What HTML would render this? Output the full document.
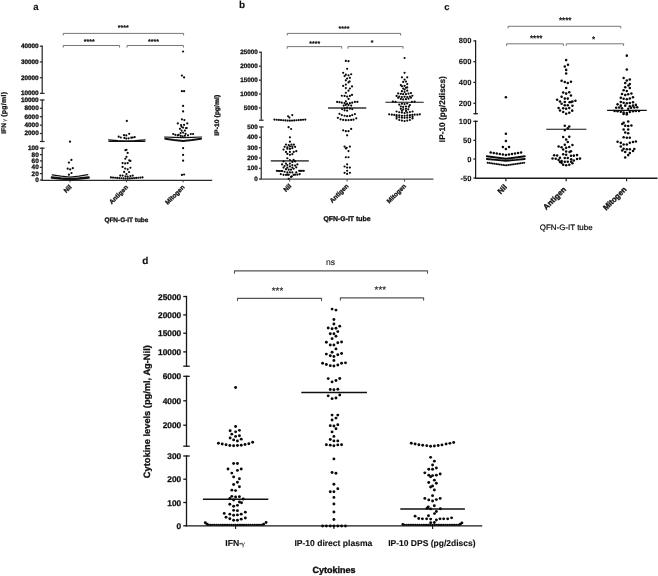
<!DOCTYPE html>
<html><head><meta charset="utf-8"><title>figure</title>
<style>
html,body{margin:0;padding:0;background:#fff;}
body{width:658px;height:576px;overflow:hidden;font-family:"Liberation Sans",sans-serif;}
svg{display:block;filter:grayscale(1) blur(0.35px);text-rendering:geometricPrecision;font-family:"Liberation Sans",sans-serif;}
</style></head><body>
<svg width="658" height="576" viewBox="0 0 658 576">
<rect x="0" y="0" width="658" height="576" fill="#ffffff"/>
<text x="33.2" y="9.8" font-size="9.6" text-anchor="start" fill="#111" font-weight="bold" stroke="#111" stroke-width="0.12">a</text>
<line x1="42.2" y1="45.58" x2="42.2" y2="94.03" stroke="#2a2a2a" stroke-width="1.25" stroke-linecap="butt"/>
<line x1="42.2" y1="99.38" x2="42.2" y2="142.12" stroke="#2a2a2a" stroke-width="1.25" stroke-linecap="butt"/>
<line x1="42.2" y1="147.57" x2="42.2" y2="180.62" stroke="#2a2a2a" stroke-width="1.25" stroke-linecap="butt"/>
<line x1="39.88" y1="46.2" x2="42.2" y2="46.2" stroke="#2a2a2a" stroke-width="1.25" stroke-linecap="butt"/>
<line x1="39.88" y1="61.9" x2="42.2" y2="61.9" stroke="#2a2a2a" stroke-width="1.25" stroke-linecap="butt"/>
<line x1="39.88" y1="77.7" x2="42.2" y2="77.7" stroke="#2a2a2a" stroke-width="1.25" stroke-linecap="butt"/>
<line x1="39.88" y1="108.3" x2="42.2" y2="108.3" stroke="#2a2a2a" stroke-width="1.25" stroke-linecap="butt"/>
<line x1="39.88" y1="116.7" x2="42.2" y2="116.7" stroke="#2a2a2a" stroke-width="1.25" stroke-linecap="butt"/>
<line x1="39.88" y1="125.2" x2="42.2" y2="125.2" stroke="#2a2a2a" stroke-width="1.25" stroke-linecap="butt"/>
<line x1="39.88" y1="133.5" x2="42.2" y2="133.5" stroke="#2a2a2a" stroke-width="1.25" stroke-linecap="butt"/>
<line x1="39.88" y1="154.6" x2="42.2" y2="154.6" stroke="#2a2a2a" stroke-width="1.25" stroke-linecap="butt"/>
<line x1="39.88" y1="160.9" x2="42.2" y2="160.9" stroke="#2a2a2a" stroke-width="1.25" stroke-linecap="butt"/>
<line x1="39.88" y1="167.3" x2="42.2" y2="167.3" stroke="#2a2a2a" stroke-width="1.25" stroke-linecap="butt"/>
<line x1="39.88" y1="173.6" x2="42.2" y2="173.6" stroke="#2a2a2a" stroke-width="1.25" stroke-linecap="butt"/>
<line x1="39.88" y1="180" x2="42.2" y2="180" stroke="#2a2a2a" stroke-width="1.25" stroke-linecap="butt"/>
<line x1="39.88" y1="93.4" x2="44.53" y2="93.4" stroke="#2a2a2a" stroke-width="1.25" stroke-linecap="butt"/>
<line x1="39.88" y1="100" x2="44.53" y2="100" stroke="#2a2a2a" stroke-width="1.25" stroke-linecap="butt"/>
<line x1="39.88" y1="141.5" x2="44.53" y2="141.5" stroke="#2a2a2a" stroke-width="1.25" stroke-linecap="butt"/>
<line x1="39.88" y1="148.2" x2="44.53" y2="148.2" stroke="#2a2a2a" stroke-width="1.25" stroke-linecap="butt"/>
<text x="38.7" y="48.1" font-size="6.4" text-anchor="end" fill="#111" font-weight="bold" stroke="#111" stroke-width="0.29">40000</text>
<text x="38.7" y="63.8" font-size="6.4" text-anchor="end" fill="#111" font-weight="bold" stroke="#111" stroke-width="0.29">30000</text>
<text x="38.7" y="79.6" font-size="6.4" text-anchor="end" fill="#111" font-weight="bold" stroke="#111" stroke-width="0.29">20000</text>
<text x="38.7" y="95.3" font-size="6.4" text-anchor="end" fill="#111" font-weight="bold" stroke="#111" stroke-width="0.29">10000</text>
<text x="38.7" y="101.9" font-size="6.4" text-anchor="end" fill="#111" font-weight="bold" stroke="#111" stroke-width="0.29">10000</text>
<text x="38.7" y="110.2" font-size="6.4" text-anchor="end" fill="#111" font-weight="bold" stroke="#111" stroke-width="0.29">8000</text>
<text x="38.7" y="118.6" font-size="6.4" text-anchor="end" fill="#111" font-weight="bold" stroke="#111" stroke-width="0.29">6000</text>
<text x="38.7" y="127.1" font-size="6.4" text-anchor="end" fill="#111" font-weight="bold" stroke="#111" stroke-width="0.29">4000</text>
<text x="38.7" y="135.4" font-size="6.4" text-anchor="end" fill="#111" font-weight="bold" stroke="#111" stroke-width="0.29">2000</text>
<text x="38.7" y="150.1" font-size="6.4" text-anchor="end" fill="#111" font-weight="bold" stroke="#111" stroke-width="0.29">100</text>
<text x="38.7" y="156.5" font-size="6.4" text-anchor="end" fill="#111" font-weight="bold" stroke="#111" stroke-width="0.29">80</text>
<text x="38.7" y="162.8" font-size="6.4" text-anchor="end" fill="#111" font-weight="bold" stroke="#111" stroke-width="0.29">60</text>
<text x="38.7" y="169.2" font-size="6.4" text-anchor="end" fill="#111" font-weight="bold" stroke="#111" stroke-width="0.29">40</text>
<text x="38.7" y="175.5" font-size="6.4" text-anchor="end" fill="#111" font-weight="bold" stroke="#111" stroke-width="0.29">20</text>
<text x="38.7" y="181.9" font-size="6.4" text-anchor="end" fill="#111" font-weight="bold" stroke="#111" stroke-width="0.29">0</text>
<line x1="41.6" y1="180.3" x2="212.2" y2="180.3" stroke="#2a2a2a" stroke-width="1.25" stroke-linecap="butt"/>
<line x1="70" y1="180" x2="70" y2="182.3" stroke="#2a2a2a" stroke-width="0.9" stroke-linecap="butt"/>
<line x1="126.5" y1="180" x2="126.5" y2="182.3" stroke="#2a2a2a" stroke-width="0.9" stroke-linecap="butt"/>
<line x1="183.1" y1="180" x2="183.1" y2="182.3" stroke="#2a2a2a" stroke-width="0.9" stroke-linecap="butt"/>
<polyline points="63.2,35.1 63.2,33.4 183.6,33.4 183.6,35.1" fill="none" stroke="#666" stroke-width="0.9" stroke-linejoin="miter" stroke-linecap="round"/>
<polyline points="63.2,47.2 63.2,45.5 119.6,45.5 119.6,47.2" fill="none" stroke="#666" stroke-width="0.9" stroke-linejoin="miter" stroke-linecap="round"/>
<polyline points="127,47.2 127,45.5 183.4,45.5 183.4,47.2" fill="none" stroke="#666" stroke-width="0.9" stroke-linejoin="miter" stroke-linecap="round"/>
<text x="123.3" y="29.5" font-size="7" text-anchor="middle" fill="#111" stroke="#111" stroke-width="0.3">****</text>
<text x="89.2" y="43.6" font-size="7" text-anchor="middle" fill="#111" stroke="#111" stroke-width="0.3">****</text>
<text x="153.5" y="43.6" font-size="7" text-anchor="middle" fill="#111" stroke="#111" stroke-width="0.3">****</text>
<text x="6.1" y="133.7" font-size="6.7" text-anchor="start" fill="#111" font-weight="bold" transform="rotate(-90 6.1 133.7)" textLength="10.6" lengthAdjust="spacingAndGlyphs" stroke="#111" stroke-width="0.28">IFN</text>
<text x="6.4" y="121.7" font-size="5.6" text-anchor="start" fill="#111" transform="rotate(-90 6.4 121.7)">&#947;</text>
<text x="6.1" y="116.8" font-size="6.9" text-anchor="start" fill="#111" font-weight="bold" transform="rotate(-90 6.1 116.8)" textLength="24.8" lengthAdjust="spacing" stroke="#111" stroke-width="0.28">(pg/ml)</text>
<text x="72" y="187.6" font-size="6.4" text-anchor="end" fill="#111" font-weight="bold" transform="rotate(-45 72 187.6)" stroke="#111" stroke-width="0.29">Nil</text>
<text x="128.5" y="187.6" font-size="6.4" text-anchor="end" fill="#111" font-weight="bold" transform="rotate(-45 128.5 187.6)" stroke="#111" stroke-width="0.29">Antigen</text>
<text x="185.1" y="187.6" font-size="6.4" text-anchor="end" fill="#111" font-weight="bold" transform="rotate(-45 185.1 187.6)" stroke="#111" stroke-width="0.29">Mitogen</text>
<text x="126.4" y="222.3" font-size="6.45" text-anchor="middle" fill="#111" font-weight="bold" stroke="#111" stroke-width="0.29">QFN-G-IT tube</text>
<polyline points="52.2,174.9 61,176.2 70,177.2 79,176.1 87.8,174.7" fill="none" stroke="#111" stroke-width="1.2" stroke-linejoin="round" stroke-linecap="round"/>
<polyline points="51.8,177.5 61,178.5 70,179.1 79,178.5 88.7,177.5" fill="none" stroke="#111" stroke-width="2.3" stroke-linejoin="round" stroke-linecap="round"/>
<g fill="#0a0a0a">
<circle cx="70" cy="141.7" r="1.1"/>
<circle cx="71.4" cy="159.9" r="1.1"/>
<circle cx="68.9" cy="162.6" r="1.1"/>
<circle cx="67.7" cy="168.7" r="1.1"/>
<circle cx="70.2" cy="169.4" r="1.1"/>
<circle cx="72.8" cy="168.2" r="1.1"/>
<circle cx="71.5" cy="173" r="1.1"/>
<circle cx="68.9" cy="174.7" r="1.1"/>
</g>
<line x1="108.5" y1="141.4" x2="145.3" y2="141.4" stroke="#111" stroke-width="1.2" stroke-linecap="butt"/>
<polyline points="108.7,139.9 118,140.8 126.5,141.3 135,140.8 145.1,139.9" fill="none" stroke="#111" stroke-width="1.4" stroke-linejoin="round" stroke-linecap="round"/>
<g fill="#0a0a0a">
<circle cx="126.8" cy="120.9" r="1.1"/>
<circle cx="118.7" cy="136.7" r="1.1"/>
<circle cx="120.8" cy="137.5" r="1.1"/>
<circle cx="124" cy="135.2" r="1.1"/>
<circle cx="126.3" cy="135.4" r="1.1"/>
<circle cx="129.2" cy="133.8" r="1.1"/>
<circle cx="124.4" cy="137.9" r="1.1"/>
<circle cx="126.3" cy="138.6" r="1.1"/>
<circle cx="128.6" cy="138.3" r="1.1"/>
<circle cx="131.3" cy="137.7" r="1.1"/>
<circle cx="132.8" cy="137.5" r="1.1"/>
<circle cx="134.7" cy="137.1" r="1.1"/>
<circle cx="125.47" cy="150.16" r="1.1"/>
<circle cx="126.48" cy="149.77" r="1.1"/>
<circle cx="127.66" cy="152.89" r="1.1"/>
<circle cx="126.48" cy="156.8" r="1.1"/>
<circle cx="125.31" cy="158.75" r="1.1"/>
<circle cx="129.22" cy="160.47" r="1.1"/>
<circle cx="130.39" cy="160.94" r="1.1"/>
<circle cx="122.58" cy="163.05" r="1.1"/>
<circle cx="125.16" cy="163.44" r="1.1"/>
<circle cx="127.66" cy="163.05" r="1.1"/>
<circle cx="122.58" cy="166.95" r="1.1"/>
<circle cx="125.16" cy="168.52" r="1.1"/>
<circle cx="127.66" cy="169.3" r="1.1"/>
<circle cx="130.39" cy="167.73" r="1.1"/>
<circle cx="124.14" cy="171.88" r="1.1"/>
<circle cx="129.06" cy="172.03" r="1.1"/>
<circle cx="126.48" cy="173.98" r="1.1"/>
<circle cx="120.23" cy="175.55" r="1.1"/>
<circle cx="122.58" cy="175.55" r="1.1"/>
<circle cx="125.47" cy="176.33" r="1.1"/>
<circle cx="127.66" cy="176.72" r="1.1"/>
<circle cx="130.39" cy="176.09" r="1.1"/>
<circle cx="132.73" cy="175.55" r="1.1"/>
<circle cx="110.9" cy="177.4" r="1.1"/>
<circle cx="113.01" cy="177.57" r="1.1"/>
<circle cx="115.11" cy="177.75" r="1.1"/>
<circle cx="117.22" cy="177.92" r="1.1"/>
<circle cx="119.33" cy="178.09" r="1.1"/>
<circle cx="121.43" cy="178.27" r="1.1"/>
<circle cx="123.54" cy="178.44" r="1.1"/>
<circle cx="125.65" cy="178.61" r="1.1"/>
<circle cx="127.75" cy="178.61" r="1.1"/>
<circle cx="129.86" cy="178.44" r="1.1"/>
<circle cx="131.97" cy="178.27" r="1.1"/>
<circle cx="134.07" cy="178.09" r="1.1"/>
<circle cx="136.18" cy="177.92" r="1.1"/>
<circle cx="138.29" cy="177.75" r="1.1"/>
<circle cx="140.39" cy="177.57" r="1.1"/>
<circle cx="142.5" cy="177.4" r="1.1"/>
</g>
<polyline points="164.5,137 174,137.4 183.1,137.6 192,137.4 201.7,137" fill="none" stroke="#111" stroke-width="1.1" stroke-linejoin="round" stroke-linecap="round"/>
<polyline points="165.3,138.8 174,140.1 183.1,141 192,140.1 201,138.8" fill="none" stroke="#111" stroke-width="2" stroke-linejoin="round" stroke-linecap="round"/>
<g fill="#0a0a0a">
<circle cx="183.1" cy="51.5" r="1.1"/>
<circle cx="181.9" cy="75.6" r="1.1"/>
<circle cx="184.1" cy="77.4" r="1.1"/>
<circle cx="181.9" cy="91.2" r="1.1"/>
<circle cx="184.1" cy="91.2" r="1.1"/>
<circle cx="183.1" cy="105.9" r="1.1"/>
<circle cx="183.1" cy="111.4" r="1.1"/>
<circle cx="181.9" cy="119.3" r="1.1"/>
<circle cx="184.4" cy="120.1" r="1.1"/>
<circle cx="177.8" cy="123.4" r="1.1"/>
<circle cx="187.3" cy="123.4" r="1.1"/>
<circle cx="181.1" cy="125.1" r="1.1"/>
<circle cx="184.1" cy="124.8" r="1.1"/>
<circle cx="179.9" cy="128.8" r="1.1"/>
<circle cx="183.1" cy="127.6" r="1.1"/>
<circle cx="186.1" cy="128.1" r="1.1"/>
<circle cx="181.6" cy="130.6" r="1.1"/>
<circle cx="184.9" cy="130.6" r="1.1"/>
<circle cx="173.2" cy="134" r="1.1"/>
<circle cx="175.3" cy="134.8" r="1.1"/>
<circle cx="178.6" cy="134.8" r="1.1"/>
<circle cx="180.6" cy="133.1" r="1.1"/>
<circle cx="183.1" cy="132.6" r="1.1"/>
<circle cx="185.6" cy="133.8" r="1.1"/>
<circle cx="190.8" cy="134" r="1.1"/>
<circle cx="193.1" cy="134" r="1.1"/>
<circle cx="183.1" cy="148.2" r="1.1"/>
<circle cx="183.1" cy="154.9" r="1.1"/>
<circle cx="183.1" cy="160.7" r="1.1"/>
<circle cx="181.9" cy="174.9" r="1.1"/>
<circle cx="184.1" cy="174.5" r="1.1"/>
<circle cx="177.7" cy="135.3" r="1.1"/>
<circle cx="180.6" cy="135.8" r="1.1"/>
<circle cx="182.6" cy="136.4" r="1.1"/>
<circle cx="184.9" cy="135.8" r="1.1"/>
<circle cx="188" cy="135.3" r="1.1"/>
<circle cx="181.5" cy="126.7" r="1.1"/>
<circle cx="186.7" cy="128" r="1.1"/>
</g>
<text x="238.9" y="7.9" font-size="9.9" text-anchor="start" fill="#111" font-weight="bold" stroke="#111" stroke-width="0.12">b</text>
<line x1="261.3" y1="51.57" x2="261.3" y2="121.02" stroke="#484848" stroke-width="1.45" stroke-linecap="butt"/>
<line x1="261.3" y1="126.28" x2="261.3" y2="179.72" stroke="#484848" stroke-width="1.45" stroke-linecap="butt"/>
<line x1="258.97" y1="52.3" x2="261.3" y2="52.3" stroke="#484848" stroke-width="1.45" stroke-linecap="butt"/>
<line x1="258.97" y1="66.3" x2="261.3" y2="66.3" stroke="#484848" stroke-width="1.45" stroke-linecap="butt"/>
<line x1="258.97" y1="80.2" x2="261.3" y2="80.2" stroke="#484848" stroke-width="1.45" stroke-linecap="butt"/>
<line x1="258.97" y1="94" x2="261.3" y2="94" stroke="#484848" stroke-width="1.45" stroke-linecap="butt"/>
<line x1="258.97" y1="107.9" x2="261.3" y2="107.9" stroke="#484848" stroke-width="1.45" stroke-linecap="butt"/>
<line x1="258.97" y1="137.3" x2="261.3" y2="137.3" stroke="#484848" stroke-width="1.45" stroke-linecap="butt"/>
<line x1="258.97" y1="147.7" x2="261.3" y2="147.7" stroke="#484848" stroke-width="1.45" stroke-linecap="butt"/>
<line x1="258.97" y1="158" x2="261.3" y2="158" stroke="#484848" stroke-width="1.45" stroke-linecap="butt"/>
<line x1="258.97" y1="168.4" x2="261.3" y2="168.4" stroke="#484848" stroke-width="1.45" stroke-linecap="butt"/>
<line x1="258.97" y1="179" x2="261.3" y2="179" stroke="#484848" stroke-width="1.45" stroke-linecap="butt"/>
<line x1="258.97" y1="120.3" x2="263.63" y2="120.3" stroke="#484848" stroke-width="1.45" stroke-linecap="butt"/>
<line x1="258.97" y1="127" x2="263.63" y2="127" stroke="#484848" stroke-width="1.45" stroke-linecap="butt"/>
<text x="257.8" y="54.2" font-size="6.3" text-anchor="end" fill="#111" font-weight="bold" stroke="#111" stroke-width="0.28">25000</text>
<text x="257.8" y="68.2" font-size="6.3" text-anchor="end" fill="#111" font-weight="bold" stroke="#111" stroke-width="0.28">20000</text>
<text x="257.8" y="82.1" font-size="6.3" text-anchor="end" fill="#111" font-weight="bold" stroke="#111" stroke-width="0.28">15000</text>
<text x="257.8" y="95.9" font-size="6.3" text-anchor="end" fill="#111" font-weight="bold" stroke="#111" stroke-width="0.28">10000</text>
<text x="257.8" y="109.8" font-size="6.3" text-anchor="end" fill="#111" font-weight="bold" stroke="#111" stroke-width="0.28">5000</text>
<text x="257.8" y="128.9" font-size="6.3" text-anchor="end" fill="#111" font-weight="bold" stroke="#111" stroke-width="0.28">500</text>
<text x="257.8" y="139.2" font-size="6.3" text-anchor="end" fill="#111" font-weight="bold" stroke="#111" stroke-width="0.28">400</text>
<text x="257.8" y="149.6" font-size="6.3" text-anchor="end" fill="#111" font-weight="bold" stroke="#111" stroke-width="0.28">300</text>
<text x="257.8" y="159.9" font-size="6.3" text-anchor="end" fill="#111" font-weight="bold" stroke="#111" stroke-width="0.28">200</text>
<text x="257.8" y="170.3" font-size="6.3" text-anchor="end" fill="#111" font-weight="bold" stroke="#111" stroke-width="0.28">100</text>
<text x="257.8" y="180.9" font-size="6.3" text-anchor="end" fill="#111" font-weight="bold" stroke="#111" stroke-width="0.28">0</text>
<line x1="260.7" y1="179.1" x2="433.5" y2="179.1" stroke="#484848" stroke-width="1.45" stroke-linecap="butt"/>
<line x1="289.7" y1="179" x2="289.7" y2="181.6" stroke="#484848" stroke-width="1" stroke-linecap="butt"/>
<line x1="347.1" y1="179" x2="347.1" y2="181.6" stroke="#484848" stroke-width="1" stroke-linecap="butt"/>
<line x1="404.6" y1="179" x2="404.6" y2="181.6" stroke="#484848" stroke-width="1" stroke-linecap="butt"/>
<polyline points="287.2,35.1 287.2,33.4 400.6,33.4 400.6,35.1" fill="none" stroke="#666" stroke-width="0.9" stroke-linejoin="miter" stroke-linecap="round"/>
<polyline points="287.2,48.3 287.2,46.6 341.7,46.6 341.7,48.3" fill="none" stroke="#666" stroke-width="0.9" stroke-linejoin="miter" stroke-linecap="round"/>
<polyline points="347.9,48.3 347.9,46.6 403.1,46.6 403.1,48.3" fill="none" stroke="#666" stroke-width="0.9" stroke-linejoin="miter" stroke-linecap="round"/>
<text x="344" y="30.9" font-size="7" text-anchor="middle" fill="#111" stroke="#111" stroke-width="0.3">****</text>
<text x="314.7" y="46.2" font-size="7" text-anchor="middle" fill="#111" stroke="#111" stroke-width="0.3">****</text>
<text x="372.2" y="45.2" font-size="7" text-anchor="middle" fill="#111" stroke="#111" stroke-width="0.3">*</text>
<text x="219" y="115.3" font-size="6.6" text-anchor="middle" fill="#111" font-weight="bold" transform="rotate(-90 219 115.3)" textLength="41" lengthAdjust="spacingAndGlyphs" stroke="#111" stroke-width="0.3">IP-10 (pg/ml)</text>
<text x="291.7" y="186.5" font-size="6.4" text-anchor="end" fill="#111" font-weight="bold" transform="rotate(-45 291.7 186.5)" stroke="#111" stroke-width="0.29">Nil</text>
<text x="349.1" y="186.5" font-size="6.4" text-anchor="end" fill="#111" font-weight="bold" transform="rotate(-45 349.1 186.5)" stroke="#111" stroke-width="0.29">Antigen</text>
<text x="406.6" y="186.5" font-size="6.4" text-anchor="end" fill="#111" font-weight="bold" transform="rotate(-45 406.6 186.5)" stroke="#111" stroke-width="0.29">Mitogen</text>
<text x="347" y="220.5" font-size="6.9" text-anchor="middle" fill="#111" font-weight="bold" stroke="#111" stroke-width="0.31">QFN-G-IT tube</text>
<line x1="270.8" y1="160.8" x2="308.8" y2="160.8" stroke="#555" stroke-width="1.7" stroke-linecap="butt"/>
<g fill="#0a0a0a">
<circle cx="292.26" cy="115.1" r="1.1"/>
<circle cx="288.08" cy="116.27" r="1.1"/>
<circle cx="289.41" cy="117.61" r="1.1"/>
<circle cx="288.58" cy="127.14" r="1.1"/>
<circle cx="291.09" cy="128.98" r="1.1"/>
<circle cx="274.4" cy="119.6" r="1.1"/>
<circle cx="276.61" cy="119.76" r="1.1"/>
<circle cx="278.81" cy="119.91" r="1.1"/>
<circle cx="281.02" cy="120.07" r="1.1"/>
<circle cx="283.23" cy="120.23" r="1.1"/>
<circle cx="285.44" cy="120.39" r="1.1"/>
<circle cx="287.64" cy="120.54" r="1.1"/>
<circle cx="289.85" cy="120.7" r="1.1"/>
<circle cx="292.06" cy="120.54" r="1.1"/>
<circle cx="294.26" cy="120.39" r="1.1"/>
<circle cx="296.47" cy="120.23" r="1.1"/>
<circle cx="298.68" cy="120.07" r="1.1"/>
<circle cx="300.89" cy="119.91" r="1.1"/>
<circle cx="303.09" cy="119.76" r="1.1"/>
<circle cx="305.3" cy="119.6" r="1.1"/>
<circle cx="289.9" cy="137.29" r="1.1"/>
<circle cx="289.9" cy="141.67" r="1.1"/>
<circle cx="285.98" cy="144.59" r="1.1"/>
<circle cx="288.71" cy="145.04" r="1.1"/>
<circle cx="291.45" cy="144.59" r="1.1"/>
<circle cx="293.91" cy="144.59" r="1.1"/>
<circle cx="284.61" cy="146.86" r="1.1"/>
<circle cx="287.35" cy="147.32" r="1.1"/>
<circle cx="289.9" cy="146.41" r="1.1"/>
<circle cx="292.36" cy="146.68" r="1.1"/>
<circle cx="295.1" cy="146.86" r="1.1"/>
<circle cx="287.35" cy="148.69" r="1.1"/>
<circle cx="289.9" cy="148.96" r="1.1"/>
<circle cx="292.36" cy="148.23" r="1.1"/>
<circle cx="283.52" cy="149.6" r="1.1"/>
<circle cx="285.98" cy="151.88" r="1.1"/>
<circle cx="289.9" cy="151.88" r="1.1"/>
<circle cx="293.73" cy="151.88" r="1.1"/>
<circle cx="296.28" cy="151.15" r="1.1"/>
<circle cx="287.35" cy="153.88" r="1.1"/>
<circle cx="289.9" cy="154.79" r="1.1"/>
<circle cx="292.36" cy="154.16" r="1.1"/>
<circle cx="287.35" cy="158.26" r="1.1"/>
<circle cx="289.9" cy="160.08" r="1.1"/>
<circle cx="293.55" cy="159.9" r="1.1"/>
<circle cx="283.52" cy="161.45" r="1.1"/>
<circle cx="292.36" cy="161.91" r="1.1"/>
<circle cx="295.1" cy="161.45" r="1.1"/>
<circle cx="285.98" cy="163.55" r="1.1"/>
<circle cx="289.9" cy="163.55" r="1.1"/>
<circle cx="282.06" cy="164.46" r="1.1"/>
<circle cx="287.35" cy="165.1" r="1.1"/>
<circle cx="292.36" cy="165.1" r="1.1"/>
<circle cx="297.37" cy="164.46" r="1.1"/>
<circle cx="295.1" cy="165.55" r="1.1"/>
<circle cx="284.61" cy="166.01" r="1.1"/>
<circle cx="289.9" cy="166.46" r="1.1"/>
<circle cx="283.52" cy="167.56" r="1.1"/>
<circle cx="287.35" cy="167.56" r="1.1"/>
<circle cx="292.36" cy="167.56" r="1.1"/>
<circle cx="296.28" cy="167.37" r="1.1"/>
<circle cx="285.98" cy="169.2" r="1.1"/>
<circle cx="288.71" cy="169.65" r="1.1"/>
<circle cx="290.99" cy="169.65" r="1.1"/>
<circle cx="293.73" cy="168.74" r="1.1"/>
<circle cx="276.86" cy="170.84" r="1.1"/>
<circle cx="278.23" cy="171.02" r="1.1"/>
<circle cx="279.6" cy="171.02" r="1.1"/>
<circle cx="281.15" cy="171.02" r="1.1"/>
<circle cx="282.33" cy="171.02" r="1.1"/>
<circle cx="299.2" cy="170.84" r="1.1"/>
<circle cx="300.57" cy="170.84" r="1.1"/>
<circle cx="301.93" cy="170.84" r="1.1"/>
<circle cx="303.76" cy="170.84" r="1.1"/>
<circle cx="284.61" cy="171.75" r="1.1"/>
<circle cx="287.35" cy="172.39" r="1.1"/>
<circle cx="289.9" cy="172.39" r="1.1"/>
<circle cx="292.36" cy="172.39" r="1.1"/>
<circle cx="296.28" cy="172.39" r="1.1"/>
<circle cx="280.78" cy="174.03" r="1.1"/>
<circle cx="283.52" cy="174.85" r="1.1"/>
<circle cx="285.98" cy="174.85" r="1.1"/>
<circle cx="287.35" cy="174.67" r="1.1"/>
<circle cx="288.71" cy="174.85" r="1.1"/>
<circle cx="293.73" cy="174.85" r="1.1"/>
<circle cx="295.1" cy="174.67" r="1.1"/>
<circle cx="297.37" cy="174.67" r="1.1"/>
<circle cx="299.65" cy="174.21" r="1.1"/>
<circle cx="290.99" cy="176.95" r="1.1"/>
<circle cx="291.91" cy="176.31" r="1.1"/>
<circle cx="288.71" cy="178.77" r="1.1"/>
</g>
<line x1="328" y1="108" x2="366.3" y2="108" stroke="#333" stroke-width="1.3" stroke-linecap="butt"/>
<g fill="#0a0a0a">
<circle cx="345.85" cy="60.96" r="1.1"/>
<circle cx="348.51" cy="61.17" r="1.1"/>
<circle cx="347.13" cy="68.83" r="1.1"/>
<circle cx="343.19" cy="72.87" r="1.1"/>
<circle cx="351.17" cy="74.26" r="1.1"/>
<circle cx="345.85" cy="74.68" r="1.1"/>
<circle cx="348.51" cy="75.32" r="1.1"/>
<circle cx="344.57" cy="76.06" r="1.1"/>
<circle cx="347.13" cy="78.51" r="1.1"/>
<circle cx="349.89" cy="77.87" r="1.1"/>
<circle cx="345.85" cy="80.32" r="1.1"/>
<circle cx="349.57" cy="81.38" r="1.1"/>
<circle cx="348.51" cy="82.45" r="1.1"/>
<circle cx="345.85" cy="84.57" r="1.1"/>
<circle cx="343.19" cy="85.96" r="1.1"/>
<circle cx="352.02" cy="86.38" r="1.1"/>
<circle cx="345.85" cy="88.09" r="1.1"/>
<circle cx="349.89" cy="88.51" r="1.1"/>
<circle cx="348.51" cy="90.64" r="1.1"/>
<circle cx="345.85" cy="92.77" r="1.1"/>
<circle cx="341.81" cy="95.74" r="1.1"/>
<circle cx="344.57" cy="95.96" r="1.1"/>
<circle cx="347.13" cy="96.6" r="1.1"/>
<circle cx="349.89" cy="95.96" r="1.1"/>
<circle cx="352.02" cy="94.89" r="1.1"/>
<circle cx="348.51" cy="98.94" r="1.1"/>
<circle cx="345.85" cy="101.28" r="1.1"/>
<circle cx="337.13" cy="101.91" r="1.1"/>
<circle cx="339.47" cy="102.13" r="1.1"/>
<circle cx="341.81" cy="102.66" r="1.1"/>
<circle cx="344.57" cy="103.19" r="1.1"/>
<circle cx="347.13" cy="103.72" r="1.1"/>
<circle cx="349.89" cy="103.19" r="1.1"/>
<circle cx="352.23" cy="102.66" r="1.1"/>
<circle cx="354.89" cy="101.91" r="1.1"/>
<circle cx="357.34" cy="101.91" r="1.1"/>
<circle cx="343.72" cy="105.53" r="1.1"/>
<circle cx="345.85" cy="104.79" r="1.1"/>
<circle cx="348.51" cy="105.11" r="1.1"/>
<circle cx="351.17" cy="105.53" r="1.1"/>
<circle cx="342.13" cy="109.04" r="1.1"/>
<circle cx="344.79" cy="108.3" r="1.1"/>
<circle cx="347.13" cy="107.66" r="1.1"/>
<circle cx="349.89" cy="108.72" r="1.1"/>
<circle cx="352.23" cy="109.04" r="1.1"/>
<circle cx="344.57" cy="110.32" r="1.1"/>
<circle cx="347.13" cy="110.64" r="1.1"/>
<circle cx="339.47" cy="113.83" r="1.1"/>
<circle cx="341.81" cy="115.11" r="1.1"/>
<circle cx="344.57" cy="115.74" r="1.1"/>
<circle cx="347.13" cy="116.17" r="1.1"/>
<circle cx="349.89" cy="115.96" r="1.1"/>
<circle cx="352.23" cy="115.11" r="1.1"/>
<circle cx="354.89" cy="114.04" r="1.1"/>
<circle cx="337.87" cy="117.87" r="1.1"/>
<circle cx="340.53" cy="119.36" r="1.1"/>
<circle cx="343.19" cy="119.89" r="1.1"/>
<circle cx="345.85" cy="120.21" r="1.1"/>
<circle cx="348.51" cy="120.21" r="1.1"/>
<circle cx="351.17" cy="119.89" r="1.1"/>
<circle cx="353.51" cy="119.68" r="1.1"/>
<circle cx="356.28" cy="118.3" r="1.1"/>
<circle cx="343.19" cy="130.32" r="1.1"/>
<circle cx="345.85" cy="131.17" r="1.1"/>
<circle cx="348.51" cy="131.17" r="1.1"/>
<circle cx="351.17" cy="128.94" r="1.1"/>
<circle cx="347.13" cy="135.32" r="1.1"/>
<circle cx="344.57" cy="146.6" r="1.1"/>
<circle cx="349.89" cy="146.6" r="1.1"/>
<circle cx="345.85" cy="148.4" r="1.1"/>
<circle cx="346.7" cy="147.87" r="1.1"/>
<circle cx="348.51" cy="151.06" r="1.1"/>
<circle cx="345.85" cy="157.23" r="1.1"/>
<circle cx="348.51" cy="157.23" r="1.1"/>
<circle cx="347.13" cy="164.36" r="1.1"/>
<circle cx="344.57" cy="166.49" r="1.1"/>
<circle cx="347.13" cy="167.55" r="1.1"/>
<circle cx="349.89" cy="167.55" r="1.1"/>
<circle cx="347.13" cy="170.74" r="1.1"/>
<circle cx="344.57" cy="172.87" r="1.1"/>
<circle cx="347.13" cy="173.94" r="1.1"/>
<circle cx="349.89" cy="172.87" r="1.1"/>
</g>
<line x1="385.4" y1="102.2" x2="423.7" y2="102.2" stroke="#151515" stroke-width="1.15" stroke-linecap="butt"/>
<g fill="#0a0a0a">
<circle cx="404.57" cy="57.98" r="1.1"/>
<circle cx="404.57" cy="72.87" r="1.1"/>
<circle cx="401.91" cy="77.34" r="1.1"/>
<circle cx="407.23" cy="77.34" r="1.1"/>
<circle cx="404.57" cy="79.57" r="1.1"/>
<circle cx="403.19" cy="81.91" r="1.1"/>
<circle cx="405.96" cy="81.6" r="1.1"/>
<circle cx="407.23" cy="84.04" r="1.1"/>
<circle cx="400.85" cy="85.11" r="1.1"/>
<circle cx="401.91" cy="86.17" r="1.1"/>
<circle cx="404.57" cy="85.96" r="1.1"/>
<circle cx="405.96" cy="87.77" r="1.1"/>
<circle cx="403.19" cy="88.51" r="1.1"/>
<circle cx="407.23" cy="87.45" r="1.1"/>
<circle cx="404.57" cy="89.57" r="1.1"/>
<circle cx="401.91" cy="91.17" r="1.1"/>
<circle cx="407.23" cy="90.64" r="1.1"/>
<circle cx="404.57" cy="92.02" r="1.1"/>
<circle cx="398.19" cy="93.4" r="1.1"/>
<circle cx="400.85" cy="93.83" r="1.1"/>
<circle cx="403.19" cy="94.15" r="1.1"/>
<circle cx="405.96" cy="94.15" r="1.1"/>
<circle cx="408.51" cy="93.62" r="1.1"/>
<circle cx="410.96" cy="93.09" r="1.1"/>
<circle cx="396.6" cy="95.96" r="1.1"/>
<circle cx="399.26" cy="96.6" r="1.1"/>
<circle cx="401.91" cy="97.02" r="1.1"/>
<circle cx="404.57" cy="96.81" r="1.1"/>
<circle cx="407.23" cy="97.02" r="1.1"/>
<circle cx="409.89" cy="96.6" r="1.1"/>
<circle cx="412.34" cy="95.74" r="1.1"/>
<circle cx="398.19" cy="97.87" r="1.1"/>
<circle cx="400.85" cy="98.94" r="1.1"/>
<circle cx="403.19" cy="99.47" r="1.1"/>
<circle cx="405.96" cy="99.15" r="1.1"/>
<circle cx="408.51" cy="98.72" r="1.1"/>
<circle cx="410.96" cy="97.66" r="1.1"/>
<circle cx="392.87" cy="101.6" r="1.1"/>
<circle cx="395.53" cy="101.91" r="1.1"/>
<circle cx="412.02" cy="101.91" r="1.1"/>
<circle cx="414.68" cy="101.6" r="1.1"/>
<circle cx="399.26" cy="104.57" r="1.1"/>
<circle cx="401.91" cy="103.72" r="1.1"/>
<circle cx="404.57" cy="104.04" r="1.1"/>
<circle cx="407.23" cy="103.51" r="1.1"/>
<circle cx="409.89" cy="105.11" r="1.1"/>
<circle cx="400.85" cy="106.49" r="1.1"/>
<circle cx="403.19" cy="106.91" r="1.1"/>
<circle cx="405.96" cy="106.49" r="1.1"/>
<circle cx="408.83" cy="106.7" r="1.1"/>
<circle cx="400.85" cy="108.83" r="1.1"/>
<circle cx="403.19" cy="109.36" r="1.1"/>
<circle cx="405.96" cy="108.83" r="1.1"/>
<circle cx="408.3" cy="109.36" r="1.1"/>
<circle cx="401.91" cy="110.74" r="1.1"/>
<circle cx="405.96" cy="110.96" r="1.1"/>
<circle cx="396.6" cy="111.49" r="1.1"/>
<circle cx="399.26" cy="112.23" r="1.1"/>
<circle cx="401.91" cy="112.55" r="1.1"/>
<circle cx="404.57" cy="113.09" r="1.1"/>
<circle cx="407.23" cy="112.55" r="1.1"/>
<circle cx="409.89" cy="112.02" r="1.1"/>
<circle cx="412.55" cy="111.49" r="1.1"/>
<circle cx="389.15" cy="114.36" r="1.1"/>
<circle cx="391.81" cy="114.68" r="1.1"/>
<circle cx="394.26" cy="114.89" r="1.1"/>
<circle cx="396.6" cy="115.21" r="1.1"/>
<circle cx="399.26" cy="115.43" r="1.1"/>
<circle cx="401.91" cy="115.74" r="1.1"/>
<circle cx="404.57" cy="115.74" r="1.1"/>
<circle cx="407.23" cy="115.43" r="1.1"/>
<circle cx="409.89" cy="115.21" r="1.1"/>
<circle cx="412.34" cy="114.89" r="1.1"/>
<circle cx="414.68" cy="114.68" r="1.1"/>
<circle cx="417.34" cy="114.68" r="1.1"/>
<circle cx="419.79" cy="114.36" r="1.1"/>
<circle cx="396.6" cy="116.81" r="1.1"/>
<circle cx="399.26" cy="117.34" r="1.1"/>
<circle cx="401.91" cy="117.66" r="1.1"/>
<circle cx="404.57" cy="117.87" r="1.1"/>
<circle cx="407.23" cy="117.66" r="1.1"/>
<circle cx="409.89" cy="117.34" r="1.1"/>
<circle cx="412.55" cy="116.81" r="1.1"/>
<circle cx="396.6" cy="118.62" r="1.1"/>
<circle cx="399.26" cy="120" r="1.1"/>
<circle cx="401.91" cy="120.53" r="1.1"/>
<circle cx="404.57" cy="121.06" r="1.1"/>
<circle cx="407.23" cy="120.53" r="1.1"/>
<circle cx="409.89" cy="120" r="1.1"/>
<circle cx="412.55" cy="118.4" r="1.1"/>
</g>
<text x="444.3" y="9.8" font-size="9.4" text-anchor="start" fill="#111" font-weight="bold" stroke="#111" stroke-width="0.12">c</text>
<line x1="475.6" y1="40.27" x2="475.6" y2="114.33" stroke="#1a1a1a" stroke-width="1.25" stroke-linecap="butt"/>
<line x1="475.6" y1="120.67" x2="475.6" y2="178.62" stroke="#1a1a1a" stroke-width="1.25" stroke-linecap="butt"/>
<line x1="473.38" y1="40.9" x2="475.6" y2="40.9" stroke="#1a1a1a" stroke-width="1.25" stroke-linecap="butt"/>
<line x1="473.38" y1="61.7" x2="475.6" y2="61.7" stroke="#1a1a1a" stroke-width="1.25" stroke-linecap="butt"/>
<line x1="473.38" y1="82.4" x2="475.6" y2="82.4" stroke="#1a1a1a" stroke-width="1.25" stroke-linecap="butt"/>
<line x1="473.38" y1="103.3" x2="475.6" y2="103.3" stroke="#1a1a1a" stroke-width="1.25" stroke-linecap="butt"/>
<line x1="473.38" y1="140.3" x2="475.6" y2="140.3" stroke="#1a1a1a" stroke-width="1.25" stroke-linecap="butt"/>
<line x1="473.38" y1="159" x2="475.6" y2="159" stroke="#1a1a1a" stroke-width="1.25" stroke-linecap="butt"/>
<line x1="473.38" y1="178" x2="475.6" y2="178" stroke="#1a1a1a" stroke-width="1.25" stroke-linecap="butt"/>
<line x1="473.38" y1="113.7" x2="477.83" y2="113.7" stroke="#1a1a1a" stroke-width="1.25" stroke-linecap="butt"/>
<line x1="473.38" y1="121.3" x2="477.83" y2="121.3" stroke="#1a1a1a" stroke-width="1.25" stroke-linecap="butt"/>
<text x="471.5" y="43.4" font-size="7.6" text-anchor="end" fill="#111" font-weight="bold" stroke="#111" stroke-width="0.1">800</text>
<text x="471.5" y="64.2" font-size="7.6" text-anchor="end" fill="#111" font-weight="bold" stroke="#111" stroke-width="0.1">600</text>
<text x="471.5" y="84.9" font-size="7.6" text-anchor="end" fill="#111" font-weight="bold" stroke="#111" stroke-width="0.1">400</text>
<text x="471.5" y="105.8" font-size="7.6" text-anchor="end" fill="#111" font-weight="bold" stroke="#111" stroke-width="0.1">200</text>
<text x="471.5" y="123.8" font-size="7.6" text-anchor="end" fill="#111" font-weight="bold" stroke="#111" stroke-width="0.1">100</text>
<text x="471.5" y="142.8" font-size="7.6" text-anchor="end" fill="#111" font-weight="bold" stroke="#111" stroke-width="0.1">50</text>
<text x="471.5" y="161.5" font-size="7.6" text-anchor="end" fill="#111" font-weight="bold" stroke="#111" stroke-width="0.1">0</text>
<text x="471.5" y="180.5" font-size="7.6" text-anchor="end" fill="#111" font-weight="bold" stroke="#111" stroke-width="0.1">-50</text>
<line x1="475" y1="178.25" x2="657.5" y2="178.25" stroke="#1a1a1a" stroke-width="1.5" stroke-linecap="butt"/>
<line x1="505.9" y1="178" x2="505.9" y2="181.2" stroke="#1a1a1a" stroke-width="1.2" stroke-linecap="butt"/>
<line x1="566.2" y1="178" x2="566.2" y2="181.2" stroke="#1a1a1a" stroke-width="1.2" stroke-linecap="butt"/>
<line x1="626.6" y1="178" x2="626.6" y2="181.2" stroke="#1a1a1a" stroke-width="1.2" stroke-linecap="butt"/>
<polyline points="508.1,28 508.1,26.3 620.8,26.3 620.8,28" fill="none" stroke="#666" stroke-width="0.9" stroke-linejoin="miter" stroke-linecap="round"/>
<polyline points="506.6,45.5 506.6,43.8 563.4,43.8 563.4,45.5" fill="none" stroke="#666" stroke-width="0.9" stroke-linejoin="miter" stroke-linecap="round"/>
<polyline points="566.3,45.5 566.3,43.8 623.6,43.8 623.6,45.5" fill="none" stroke="#666" stroke-width="0.9" stroke-linejoin="miter" stroke-linecap="round"/>
<text x="565.2" y="22.8" font-size="8" text-anchor="middle" fill="#111" stroke="#111" stroke-width="0.3">****</text>
<text x="536.2" y="40.9" font-size="8" text-anchor="middle" fill="#111" stroke="#111" stroke-width="0.3">****</text>
<text x="593.5" y="41.7" font-size="8" text-anchor="middle" fill="#111" stroke="#111" stroke-width="0.3">*</text>
<text x="445.1" y="109.2" font-size="8.3" text-anchor="middle" fill="#111" font-weight="bold" transform="rotate(-90 445.1 109.2)" stroke="#111" stroke-width="0.2">IP-10 (pg/2discs)</text>
<text x="507.6" y="187.6" font-size="7.7" text-anchor="end" fill="#111" font-weight="bold" transform="rotate(-45 507.6 187.6)" stroke="#111" stroke-width="0.35">Nil</text>
<text x="566.6" y="190" font-size="7.7" text-anchor="end" fill="#111" font-weight="bold" transform="rotate(-45 566.6 190)" stroke="#111" stroke-width="0.35">Antigen</text>
<text x="627" y="190" font-size="7.7" text-anchor="end" fill="#111" font-weight="bold" transform="rotate(-45 627 190)" stroke="#111" stroke-width="0.35">Mitogen</text>
<text x="566.2" y="229.6" font-size="7.95" text-anchor="middle" fill="#000" stroke="#000" stroke-width="0.18">QFN-G-IT tube</text>
<g fill="#0a0a0a">
<circle cx="505.9" cy="97.2" r="1.27"/>
<circle cx="505.9" cy="133.7" r="1.27"/>
<circle cx="505.9" cy="141" r="1.27"/>
<circle cx="502.9" cy="147" r="1.27"/>
<circle cx="509" cy="147" r="1.27"/>
<circle cx="505.9" cy="149.1" r="1.27"/>
<circle cx="490.7" cy="152.6" r="1.27"/>
<circle cx="493.74" cy="153.08" r="1.27"/>
<circle cx="496.78" cy="153.56" r="1.27"/>
<circle cx="499.82" cy="154.04" r="1.27"/>
<circle cx="502.86" cy="154.52" r="1.27"/>
<circle cx="505.9" cy="155" r="1.27"/>
<circle cx="508.94" cy="154.52" r="1.27"/>
<circle cx="511.98" cy="154.04" r="1.27"/>
<circle cx="515.02" cy="153.56" r="1.27"/>
<circle cx="518.06" cy="153.08" r="1.27"/>
<circle cx="521.1" cy="152.6" r="1.27"/>
</g>
<polyline points="486.8,156.3 496,157.5 505.9,158.7 516,157.5 524.8,156.3" fill="none" stroke="#0a0a0a" stroke-width="1.9" stroke-linejoin="round" stroke-linecap="round"/>
<polyline points="486.8,159 496,159.9 505.9,160.7 516,159.9 524.8,159" fill="none" stroke="#0a0a0a" stroke-width="1.9" stroke-linejoin="round" stroke-linecap="round"/>
<g fill="#0a0a0a">
<circle cx="487.6" cy="162.7" r="1"/>
<circle cx="489.34" cy="162.96" r="1"/>
<circle cx="491.09" cy="163.21" r="1"/>
<circle cx="492.83" cy="163.47" r="1"/>
<circle cx="494.57" cy="163.73" r="1"/>
<circle cx="496.31" cy="163.99" r="1"/>
<circle cx="498.06" cy="164.24" r="1"/>
<circle cx="499.8" cy="164.5" r="1"/>
<circle cx="501.54" cy="164.76" r="1"/>
<circle cx="503.29" cy="165.01" r="1"/>
<circle cx="505.03" cy="165.27" r="1"/>
<circle cx="506.77" cy="165.27" r="1"/>
<circle cx="508.51" cy="165.01" r="1"/>
<circle cx="510.26" cy="164.76" r="1"/>
<circle cx="512" cy="164.5" r="1"/>
<circle cx="513.74" cy="164.24" r="1"/>
<circle cx="515.49" cy="163.99" r="1"/>
<circle cx="517.23" cy="163.73" r="1"/>
<circle cx="518.97" cy="163.47" r="1"/>
<circle cx="520.71" cy="163.21" r="1"/>
<circle cx="522.46" cy="162.96" r="1"/>
<circle cx="524.2" cy="162.7" r="1"/>
</g>
<line x1="546.2" y1="129.3" x2="586.4" y2="129.3" stroke="#111" stroke-width="1.1" stroke-linecap="butt"/>
<g fill="#0a0a0a">
<circle cx="566.17" cy="60.11" r="1.27"/>
<circle cx="567.98" cy="64.68" r="1.27"/>
<circle cx="564.79" cy="66.49" r="1.27"/>
<circle cx="566.17" cy="69.89" r="1.27"/>
<circle cx="566.17" cy="73.4" r="1.27"/>
<circle cx="561.6" cy="80.85" r="1.27"/>
<circle cx="564.79" cy="81.91" r="1.27"/>
<circle cx="567.77" cy="82.98" r="1.27"/>
<circle cx="570.96" cy="81.7" r="1.27"/>
<circle cx="566.17" cy="87.98" r="1.27"/>
<circle cx="563.19" cy="92.55" r="1.27"/>
<circle cx="566.17" cy="93.62" r="1.27"/>
<circle cx="569.26" cy="92.23" r="1.27"/>
<circle cx="570.96" cy="95.53" r="1.27"/>
<circle cx="561.6" cy="96.81" r="1.27"/>
<circle cx="564.79" cy="98.62" r="1.27"/>
<circle cx="567.77" cy="98.62" r="1.27"/>
<circle cx="557.13" cy="99.79" r="1.27"/>
<circle cx="560" cy="101.6" r="1.27"/>
<circle cx="564.79" cy="101.91" r="1.27"/>
<circle cx="569.57" cy="102.34" r="1.27"/>
<circle cx="571.17" cy="101.91" r="1.27"/>
<circle cx="572.45" cy="101.6" r="1.27"/>
<circle cx="575.43" cy="100.85" r="1.27"/>
<circle cx="561.6" cy="103.72" r="1.27"/>
<circle cx="564.79" cy="105.32" r="1.27"/>
<circle cx="567.77" cy="105.32" r="1.27"/>
<circle cx="572.45" cy="105.85" r="1.27"/>
<circle cx="558.62" cy="107.98" r="1.27"/>
<circle cx="563.19" cy="108.3" r="1.27"/>
<circle cx="566.17" cy="108.72" r="1.27"/>
<circle cx="569.26" cy="107.98" r="1.27"/>
<circle cx="560" cy="110.43" r="1.27"/>
<circle cx="572.23" cy="110.64" r="1.27"/>
<circle cx="563.19" cy="111.91" r="1.27"/>
<circle cx="569.26" cy="112.77" r="1.27"/>
<circle cx="566.17" cy="113.83" r="1.27"/>
<circle cx="564.79" cy="125.85" r="1.27"/>
<circle cx="569.26" cy="126.6" r="1.27"/>
<circle cx="567.77" cy="128.19" r="1.27"/>
<circle cx="564.79" cy="130.11" r="1.27"/>
<circle cx="563.19" cy="137.02" r="1.27"/>
<circle cx="569.26" cy="136.7" r="1.27"/>
<circle cx="566.17" cy="139.57" r="1.27"/>
<circle cx="567.77" cy="142.02" r="1.27"/>
<circle cx="564.79" cy="144.68" r="1.27"/>
<circle cx="572.45" cy="145" r="1.27"/>
<circle cx="558.62" cy="146.6" r="1.27"/>
<circle cx="561.6" cy="147.34" r="1.27"/>
<circle cx="566.17" cy="147.87" r="1.27"/>
<circle cx="569.26" cy="147.02" r="1.27"/>
<circle cx="563.19" cy="149.47" r="1.27"/>
<circle cx="566.17" cy="151.6" r="1.27"/>
<circle cx="569.57" cy="151.91" r="1.27"/>
<circle cx="570.96" cy="151.28" r="1.27"/>
<circle cx="563.19" cy="154.26" r="1.27"/>
<circle cx="566.17" cy="154.79" r="1.27"/>
<circle cx="554.15" cy="155.32" r="1.27"/>
<circle cx="557.13" cy="155.53" r="1.27"/>
<circle cx="570.96" cy="155.85" r="1.27"/>
<circle cx="573.83" cy="155.64" r="1.27"/>
<circle cx="577.02" cy="155.11" r="1.27"/>
<circle cx="552.55" cy="158.51" r="1.27"/>
<circle cx="555.74" cy="158.83" r="1.27"/>
<circle cx="560" cy="157.77" r="1.27"/>
<circle cx="564.79" cy="157.98" r="1.27"/>
<circle cx="567.77" cy="157.98" r="1.27"/>
<circle cx="577.02" cy="159.04" r="1.27"/>
<circle cx="580" cy="158.62" r="1.27"/>
<circle cx="558.62" cy="159.89" r="1.27"/>
<circle cx="561.6" cy="160.96" r="1.27"/>
<circle cx="571.17" cy="159.36" r="1.27"/>
<circle cx="573.83" cy="160.43" r="1.27"/>
<circle cx="560" cy="162.02" r="1.27"/>
<circle cx="564.79" cy="161.7" r="1.27"/>
<circle cx="567.77" cy="161.7" r="1.27"/>
<circle cx="571.17" cy="161.81" r="1.27"/>
<circle cx="561.6" cy="162.87" r="1.27"/>
<circle cx="572.45" cy="163.3" r="1.27"/>
<circle cx="563.19" cy="164.68" r="1.27"/>
<circle cx="566.17" cy="165.21" r="1.27"/>
<circle cx="569.26" cy="164.68" r="1.27"/>
</g>
<line x1="607.1" y1="110.4" x2="646.7" y2="110.4" stroke="#111" stroke-width="1.1" stroke-linecap="butt"/>
<g fill="#0a0a0a">
<circle cx="626.83" cy="55.64" r="1.27"/>
<circle cx="626.83" cy="69.47" r="1.27"/>
<circle cx="623.64" cy="77.98" r="1.27"/>
<circle cx="629.81" cy="79.57" r="1.27"/>
<circle cx="626.83" cy="80.43" r="1.27"/>
<circle cx="625.23" cy="82.98" r="1.27"/>
<circle cx="629.81" cy="84.04" r="1.27"/>
<circle cx="628.43" cy="85.43" r="1.27"/>
<circle cx="625.23" cy="87.34" r="1.27"/>
<circle cx="629.81" cy="88.09" r="1.27"/>
<circle cx="623.64" cy="90.21" r="1.27"/>
<circle cx="626.83" cy="90.96" r="1.27"/>
<circle cx="622.04" cy="93.94" r="1.27"/>
<circle cx="625.23" cy="95" r="1.27"/>
<circle cx="628.21" cy="94.26" r="1.27"/>
<circle cx="631.4" cy="93.4" r="1.27"/>
<circle cx="620.77" cy="97.87" r="1.27"/>
<circle cx="623.64" cy="98.72" r="1.27"/>
<circle cx="626.83" cy="99.26" r="1.27"/>
<circle cx="629.81" cy="98.51" r="1.27"/>
<circle cx="633" cy="97.34" r="1.27"/>
<circle cx="620.77" cy="101.91" r="1.27"/>
<circle cx="623.64" cy="102.77" r="1.27"/>
<circle cx="626.83" cy="103.3" r="1.27"/>
<circle cx="629.81" cy="102.98" r="1.27"/>
<circle cx="633" cy="102.23" r="1.27"/>
<circle cx="617.57" cy="104.36" r="1.27"/>
<circle cx="620.77" cy="105.64" r="1.27"/>
<circle cx="625.23" cy="105.64" r="1.27"/>
<circle cx="629.81" cy="106.17" r="1.27"/>
<circle cx="633" cy="105.64" r="1.27"/>
<circle cx="635.87" cy="104.89" r="1.27"/>
<circle cx="616.19" cy="107.77" r="1.27"/>
<circle cx="619.17" cy="107.55" r="1.27"/>
<circle cx="622.04" cy="108.3" r="1.27"/>
<circle cx="628.21" cy="108.83" r="1.27"/>
<circle cx="631.09" cy="107.77" r="1.27"/>
<circle cx="634.28" cy="107.55" r="1.27"/>
<circle cx="637.26" cy="107.23" r="1.27"/>
<circle cx="614.6" cy="110.96" r="1.27"/>
<circle cx="617.57" cy="111.17" r="1.27"/>
<circle cx="620.77" cy="111.81" r="1.27"/>
<circle cx="623.64" cy="112.55" r="1.27"/>
<circle cx="626.83" cy="113.09" r="1.27"/>
<circle cx="629.81" cy="112.02" r="1.27"/>
<circle cx="633" cy="111.17" r="1.27"/>
<circle cx="635.87" cy="110.96" r="1.27"/>
<circle cx="639.06" cy="110.96" r="1.27"/>
<circle cx="623.64" cy="113.94" r="1.27"/>
<circle cx="626.83" cy="114.36" r="1.27"/>
<circle cx="628.21" cy="121.6" r="1.27"/>
<circle cx="623.64" cy="122.87" r="1.27"/>
<circle cx="622.26" cy="123.94" r="1.27"/>
<circle cx="625.23" cy="125.85" r="1.27"/>
<circle cx="628.21" cy="126.06" r="1.27"/>
<circle cx="631.4" cy="125.53" r="1.27"/>
<circle cx="623.64" cy="129.57" r="1.27"/>
<circle cx="628.21" cy="129.57" r="1.27"/>
<circle cx="625.23" cy="132.45" r="1.27"/>
<circle cx="628.21" cy="133.3" r="1.27"/>
<circle cx="623.64" cy="137.23" r="1.27"/>
<circle cx="626.83" cy="137.77" r="1.27"/>
<circle cx="629.81" cy="137.77" r="1.27"/>
<circle cx="617.57" cy="141.81" r="1.27"/>
<circle cx="620.77" cy="142.87" r="1.27"/>
<circle cx="623.64" cy="144.47" r="1.27"/>
<circle cx="626.83" cy="144.47" r="1.27"/>
<circle cx="629.81" cy="142.87" r="1.27"/>
<circle cx="633" cy="142.02" r="1.27"/>
<circle cx="635.87" cy="141.6" r="1.27"/>
<circle cx="620.77" cy="146.6" r="1.27"/>
<circle cx="623.64" cy="148.72" r="1.27"/>
<circle cx="626.83" cy="149.26" r="1.27"/>
<circle cx="629.81" cy="149.26" r="1.27"/>
<circle cx="634.28" cy="148.94" r="1.27"/>
<circle cx="622.26" cy="150.53" r="1.27"/>
<circle cx="625.23" cy="151.91" r="1.27"/>
<circle cx="633" cy="151.06" r="1.27"/>
<circle cx="629.81" cy="152.98" r="1.27"/>
<circle cx="628.21" cy="155.11" r="1.27"/>
<circle cx="625.2" cy="157.6" r="1.27"/>
</g>
<text x="142.3" y="263.7" font-size="10" text-anchor="start" fill="#111" font-weight="bold" stroke="#111" stroke-width="0.12">d</text>
<line x1="186.5" y1="295.85" x2="186.5" y2="366.85" stroke="#161616" stroke-width="1.3" stroke-linecap="butt"/>
<line x1="186.5" y1="375.65" x2="186.5" y2="446.85" stroke="#161616" stroke-width="1.3" stroke-linecap="butt"/>
<line x1="186.5" y1="455.35" x2="186.5" y2="526.45" stroke="#161616" stroke-width="1.3" stroke-linecap="butt"/>
<line x1="183.25" y1="296.5" x2="186.5" y2="296.5" stroke="#161616" stroke-width="1.3" stroke-linecap="butt"/>
<line x1="183.25" y1="314.9" x2="186.5" y2="314.9" stroke="#161616" stroke-width="1.3" stroke-linecap="butt"/>
<line x1="183.25" y1="333.2" x2="186.5" y2="333.2" stroke="#161616" stroke-width="1.3" stroke-linecap="butt"/>
<line x1="183.25" y1="351.9" x2="186.5" y2="351.9" stroke="#161616" stroke-width="1.3" stroke-linecap="butt"/>
<line x1="183.25" y1="400.8" x2="186.5" y2="400.8" stroke="#161616" stroke-width="1.3" stroke-linecap="butt"/>
<line x1="183.25" y1="425.2" x2="186.5" y2="425.2" stroke="#161616" stroke-width="1.3" stroke-linecap="butt"/>
<line x1="183.25" y1="479.2" x2="186.5" y2="479.2" stroke="#161616" stroke-width="1.3" stroke-linecap="butt"/>
<line x1="183.25" y1="502.5" x2="186.5" y2="502.5" stroke="#161616" stroke-width="1.3" stroke-linecap="butt"/>
<line x1="183.25" y1="525.8" x2="186.5" y2="525.8" stroke="#161616" stroke-width="1.3" stroke-linecap="butt"/>
<line x1="183.25" y1="366.2" x2="189.75" y2="366.2" stroke="#161616" stroke-width="1.3" stroke-linecap="butt"/>
<line x1="183.25" y1="376.3" x2="189.75" y2="376.3" stroke="#161616" stroke-width="1.3" stroke-linecap="butt"/>
<line x1="183.25" y1="446.2" x2="189.75" y2="446.2" stroke="#161616" stroke-width="1.3" stroke-linecap="butt"/>
<line x1="183.25" y1="456" x2="189.75" y2="456" stroke="#161616" stroke-width="1.3" stroke-linecap="butt"/>
<text x="181.2" y="299.6" font-size="8.3" text-anchor="end" fill="#111" font-weight="bold" stroke="#111" stroke-width="0.27">25000</text>
<text x="181.2" y="318" font-size="8.3" text-anchor="end" fill="#111" font-weight="bold" stroke="#111" stroke-width="0.27">20000</text>
<text x="181.2" y="336.3" font-size="8.3" text-anchor="end" fill="#111" font-weight="bold" stroke="#111" stroke-width="0.27">15000</text>
<text x="181.2" y="355" font-size="8.3" text-anchor="end" fill="#111" font-weight="bold" stroke="#111" stroke-width="0.27">10000</text>
<text x="181.2" y="379.4" font-size="8.3" text-anchor="end" fill="#111" font-weight="bold" stroke="#111" stroke-width="0.27">6000</text>
<text x="181.2" y="403.9" font-size="8.3" text-anchor="end" fill="#111" font-weight="bold" stroke="#111" stroke-width="0.27">4000</text>
<text x="181.2" y="428.3" font-size="8.3" text-anchor="end" fill="#111" font-weight="bold" stroke="#111" stroke-width="0.27">2000</text>
<text x="181.2" y="459.1" font-size="8.3" text-anchor="end" fill="#111" font-weight="bold" stroke="#111" stroke-width="0.27">300</text>
<text x="181.2" y="482.3" font-size="8.3" text-anchor="end" fill="#111" font-weight="bold" stroke="#111" stroke-width="0.27">200</text>
<text x="181.2" y="505.6" font-size="8.3" text-anchor="end" fill="#111" font-weight="bold" stroke="#111" stroke-width="0.27">100</text>
<text x="181.2" y="528.9" font-size="8.3" text-anchor="end" fill="#111" font-weight="bold" stroke="#111" stroke-width="0.27">0</text>
<line x1="185.85" y1="525.9" x2="482.2" y2="525.9" stroke="#161616" stroke-width="1.3" stroke-linecap="butt"/>
<line x1="235.6" y1="525.9" x2="235.6" y2="529" stroke="#161616" stroke-width="1.1" stroke-linecap="butt"/>
<line x1="333.9" y1="525.9" x2="333.9" y2="529" stroke="#161616" stroke-width="1.1" stroke-linecap="butt"/>
<line x1="432.6" y1="525.9" x2="432.6" y2="529" stroke="#161616" stroke-width="1.1" stroke-linecap="butt"/>
<polyline points="234.5,273.3 234.5,270.9 427.5,270.9 427.5,273.3" fill="none" stroke="#555" stroke-width="1.1" stroke-linejoin="miter" stroke-linecap="round"/>
<polyline points="237.5,300.6 237.5,298.4 321.5,298.4 321.5,300.6" fill="none" stroke="#555" stroke-width="1.1" stroke-linejoin="miter" stroke-linecap="round"/>
<polyline points="340.4,300.1 340.4,297.9 423.6,297.9 423.6,300.1" fill="none" stroke="#555" stroke-width="1.1" stroke-linejoin="miter" stroke-linecap="round"/>
<text x="330.6" y="264.6" font-size="8.6" text-anchor="middle" fill="#111" stroke="#111" stroke-width="0.1">ns</text>
<text x="277.5" y="293.8" font-size="9.8" text-anchor="middle" fill="#222" stroke="#222" stroke-width="0.15">***</text>
<text x="380.3" y="293.3" font-size="9.8" text-anchor="middle" fill="#222" stroke="#222" stroke-width="0.15">***</text>
<text x="150" y="411.7" font-size="9.2" text-anchor="middle" fill="#111" font-weight="bold" transform="rotate(-90 150 411.7)" textLength="133" lengthAdjust="spacingAndGlyphs" stroke="#111" stroke-width="0.3">Cytokine levels (pg/ml, Ag-Nil)</text>
<text x="225.3" y="546" font-size="8.6" text-anchor="start" fill="#111" font-weight="bold" stroke="#111" stroke-width="0.12">IFN-</text>
<text x="241.6" y="546.4" font-size="6.8" text-anchor="start" fill="#111">&#947;</text>
<text x="294.4" y="545.7" font-size="8.55" text-anchor="start" fill="#111" font-weight="bold" stroke="#111" stroke-width="0.12">IP-10 direct plasma</text>
<text x="388.2" y="545.9" font-size="8.5" text-anchor="start" fill="#111" font-weight="bold" stroke="#111" stroke-width="0.12">IP-10 DPS (pg/2discs)</text>
<text x="334.1" y="573.2" font-size="9" text-anchor="middle" fill="#111" font-weight="bold" stroke="#111" stroke-width="0.4">Cytokines</text>
<line x1="301.3" y1="392.5" x2="367" y2="392.5" stroke="#111" stroke-width="1.45" stroke-linecap="butt"/>
<g fill="#0a0a0a">
<circle cx="332.08" cy="309.12" r="1.45"/>
<circle cx="335.97" cy="310.09" r="1.45"/>
<circle cx="333.91" cy="319.45" r="1.45"/>
<circle cx="333.91" cy="323.95" r="1.45"/>
<circle cx="328.19" cy="327.96" r="1.45"/>
<circle cx="332.08" cy="328.81" r="1.45"/>
<circle cx="335.97" cy="328.21" r="1.45"/>
<circle cx="339.74" cy="326.14" r="1.45"/>
<circle cx="337.8" cy="331.61" r="1.45"/>
<circle cx="330.26" cy="333.68" r="1.45"/>
<circle cx="333.91" cy="333.8" r="1.45"/>
<circle cx="335.97" cy="336.23" r="1.45"/>
<circle cx="332.08" cy="338.66" r="1.45"/>
<circle cx="326.37" cy="342.31" r="1.45"/>
<circle cx="330.26" cy="344.98" r="1.45"/>
<circle cx="333.91" cy="344.98" r="1.45"/>
<circle cx="337.8" cy="342.8" r="1.45"/>
<circle cx="341.57" cy="341.95" r="1.45"/>
<circle cx="335.97" cy="348.88" r="1.45"/>
<circle cx="332.08" cy="352.28" r="1.45"/>
<circle cx="326.37" cy="354.1" r="1.45"/>
<circle cx="330.26" cy="355.68" r="1.45"/>
<circle cx="333.91" cy="356.53" r="1.45"/>
<circle cx="337.8" cy="354.71" r="1.45"/>
<circle cx="341.57" cy="353.5" r="1.45"/>
<circle cx="333.91" cy="360.43" r="1.45"/>
<circle cx="322.6" cy="363.22" r="1.45"/>
<circle cx="326.37" cy="364.44" r="1.45"/>
<circle cx="330.26" cy="365.65" r="1.45"/>
<circle cx="333.91" cy="366.02" r="1.45"/>
<circle cx="337.8" cy="365.05" r="1.45"/>
<circle cx="341.57" cy="363.22" r="1.45"/>
<circle cx="345.46" cy="362.86" r="1.45"/>
<circle cx="328.19" cy="378.6" r="1.45"/>
<circle cx="332.08" cy="381.88" r="1.45"/>
<circle cx="335.97" cy="380.43" r="1.45"/>
<circle cx="339.74" cy="378.48" r="1.45"/>
<circle cx="330.26" cy="389.54" r="1.45"/>
<circle cx="333.91" cy="389.79" r="1.45"/>
<circle cx="337.8" cy="389.18" r="1.45"/>
<circle cx="328.19" cy="395.87" r="1.45"/>
<circle cx="332.08" cy="398.66" r="1.45"/>
<circle cx="335.97" cy="397.93" r="1.45"/>
<circle cx="339.74" cy="395.02" r="1.45"/>
<circle cx="332.08" cy="415.08" r="1.45"/>
<circle cx="337.8" cy="415.08" r="1.45"/>
<circle cx="335.97" cy="418.12" r="1.45"/>
<circle cx="332.08" cy="419.94" r="1.45"/>
<circle cx="330.26" cy="425.65" r="1.45"/>
<circle cx="333.91" cy="426.02" r="1.45"/>
<circle cx="337.8" cy="424.68" r="1.45"/>
<circle cx="335.97" cy="428.69" r="1.45"/>
<circle cx="332.08" cy="431.91" r="1.45"/>
<circle cx="333.91" cy="436.41" r="1.45"/>
<circle cx="330.26" cy="439.45" r="1.45"/>
<circle cx="333.91" cy="440.91" r="1.45"/>
<circle cx="337.8" cy="440.91" r="1.45"/>
<circle cx="326.37" cy="444.68" r="1.45"/>
<circle cx="330.26" cy="445.17" r="1.45"/>
<circle cx="333.91" cy="445.78" r="1.45"/>
<circle cx="337.8" cy="444.92" r="1.45"/>
<circle cx="341.57" cy="444.68" r="1.45"/>
<circle cx="333.91" cy="458.91" r="1.45"/>
<circle cx="332.08" cy="472.52" r="1.45"/>
<circle cx="335.97" cy="473.25" r="1.45"/>
<circle cx="333.91" cy="484.19" r="1.45"/>
<circle cx="337.8" cy="488.69" r="1.45"/>
<circle cx="330.26" cy="491.79" r="1.45"/>
<circle cx="333.91" cy="491.79" r="1.45"/>
<circle cx="333.91" cy="497.39" r="1.45"/>
<circle cx="333.91" cy="503.95" r="1.45"/>
<circle cx="333.91" cy="511.98" r="1.45"/>
<circle cx="333.91" cy="519.51" r="1.45"/>
<circle cx="322.6" cy="525.96" r="1.45"/>
<circle cx="326.37" cy="525.96" r="1.45"/>
<circle cx="330.26" cy="525.96" r="1.45"/>
<circle cx="333.91" cy="525.96" r="1.45"/>
<circle cx="337.8" cy="525.96" r="1.45"/>
<circle cx="341.57" cy="525.96" r="1.45"/>
<circle cx="345.46" cy="525.96" r="1.45"/>
</g>
<line x1="202.9" y1="499.3" x2="268.3" y2="499.3" stroke="#111" stroke-width="1.45" stroke-linecap="butt"/>
<g fill="#0a0a0a">
<circle cx="235.61" cy="387.48" r="1.45"/>
<circle cx="235.61" cy="426.53" r="1.45"/>
<circle cx="230.14" cy="430.79" r="1.45"/>
<circle cx="239.41" cy="430.33" r="1.45"/>
<circle cx="235.61" cy="431.85" r="1.45"/>
<circle cx="231.81" cy="434.13" r="1.45"/>
<circle cx="235.61" cy="436.41" r="1.45"/>
<circle cx="239.41" cy="435.81" r="1.45"/>
<circle cx="230.14" cy="437.93" r="1.45"/>
<circle cx="233.63" cy="439.91" r="1.45"/>
<circle cx="237.43" cy="440.97" r="1.45"/>
<circle cx="241.23" cy="439.15" r="1.45"/>
<circle cx="218.43" cy="443.25" r="1.45"/>
<circle cx="222.23" cy="444.01" r="1.45"/>
<circle cx="226.03" cy="444.77" r="1.45"/>
<circle cx="229.83" cy="445.53" r="1.45"/>
<circle cx="233.63" cy="445.68" r="1.45"/>
<circle cx="237.43" cy="445.53" r="1.45"/>
<circle cx="241.23" cy="445.23" r="1.45"/>
<circle cx="245.03" cy="444.47" r="1.45"/>
<circle cx="248.83" cy="443.71" r="1.45"/>
<circle cx="252.63" cy="442.19" r="1.45"/>
<circle cx="233.63" cy="463.54" r="1.45"/>
<circle cx="237.43" cy="463.54" r="1.45"/>
<circle cx="228.01" cy="469.01" r="1.45"/>
<circle cx="237.43" cy="470.38" r="1.45"/>
<circle cx="241.23" cy="469.01" r="1.45"/>
<circle cx="231.81" cy="473.12" r="1.45"/>
<circle cx="233.63" cy="476.91" r="1.45"/>
<circle cx="239.41" cy="478.74" r="1.45"/>
<circle cx="237.43" cy="482.23" r="1.45"/>
<circle cx="233.63" cy="484.51" r="1.45"/>
<circle cx="239.41" cy="486.79" r="1.45"/>
<circle cx="231.81" cy="490.14" r="1.45"/>
<circle cx="235.61" cy="490.59" r="1.45"/>
<circle cx="231.81" cy="496.37" r="1.45"/>
<circle cx="235.61" cy="496.98" r="1.45"/>
<circle cx="239.41" cy="496.67" r="1.45"/>
<circle cx="229.83" cy="498.5" r="1.45"/>
<circle cx="243.21" cy="498.95" r="1.45"/>
<circle cx="233.63" cy="500.02" r="1.45"/>
<circle cx="239.41" cy="501.99" r="1.45"/>
<circle cx="241.53" cy="502.75" r="1.45"/>
<circle cx="229.83" cy="504.27" r="1.45"/>
<circle cx="233.63" cy="506.25" r="1.45"/>
<circle cx="237.43" cy="505.33" r="1.45"/>
<circle cx="233.63" cy="510.35" r="1.45"/>
<circle cx="237.43" cy="510.65" r="1.45"/>
<circle cx="224.21" cy="513.39" r="1.45"/>
<circle cx="229.83" cy="514.15" r="1.45"/>
<circle cx="233.63" cy="515.21" r="1.45"/>
<circle cx="237.43" cy="514.91" r="1.45"/>
<circle cx="241.23" cy="514.15" r="1.45"/>
<circle cx="245.33" cy="512.17" r="1.45"/>
<circle cx="226.03" cy="517.19" r="1.45"/>
<circle cx="229.83" cy="518.71" r="1.45"/>
<circle cx="233.63" cy="520.23" r="1.45"/>
<circle cx="237.43" cy="520.23" r="1.45"/>
<circle cx="241.23" cy="519.16" r="1.45"/>
<circle cx="245.33" cy="517.95" r="1.45"/>
<circle cx="205.3" cy="522.7" r="1.45"/>
<circle cx="207.2" cy="524.2" r="1.45"/>
<circle cx="266.1" cy="522.5" r="1.45"/>
<circle cx="263.6" cy="524.2" r="1.45"/>
</g>
<g fill="#0a0a0a">
<circle cx="209" cy="524.8" r="1.15"/>
<circle cx="210.89" cy="524.81" r="1.15"/>
<circle cx="212.77" cy="524.83" r="1.15"/>
<circle cx="214.66" cy="524.84" r="1.15"/>
<circle cx="216.54" cy="524.86" r="1.15"/>
<circle cx="218.43" cy="524.87" r="1.15"/>
<circle cx="220.31" cy="524.89" r="1.15"/>
<circle cx="222.2" cy="524.9" r="1.15"/>
<circle cx="224.09" cy="524.91" r="1.15"/>
<circle cx="225.97" cy="524.93" r="1.15"/>
<circle cx="227.86" cy="524.94" r="1.15"/>
<circle cx="229.74" cy="524.96" r="1.15"/>
<circle cx="231.63" cy="524.97" r="1.15"/>
<circle cx="233.51" cy="524.99" r="1.15"/>
<circle cx="235.4" cy="525" r="1.15"/>
<circle cx="237.29" cy="524.99" r="1.15"/>
<circle cx="239.17" cy="524.97" r="1.15"/>
<circle cx="241.06" cy="524.96" r="1.15"/>
<circle cx="242.94" cy="524.94" r="1.15"/>
<circle cx="244.83" cy="524.93" r="1.15"/>
<circle cx="246.71" cy="524.91" r="1.15"/>
<circle cx="248.6" cy="524.9" r="1.15"/>
<circle cx="250.49" cy="524.89" r="1.15"/>
<circle cx="252.37" cy="524.87" r="1.15"/>
<circle cx="254.26" cy="524.86" r="1.15"/>
<circle cx="256.14" cy="524.84" r="1.15"/>
<circle cx="258.03" cy="524.83" r="1.15"/>
<circle cx="259.91" cy="524.81" r="1.15"/>
<circle cx="261.8" cy="524.8" r="1.15"/>
</g>
<line x1="400.3" y1="508.9" x2="464.9" y2="508.9" stroke="#111" stroke-width="1.45" stroke-linecap="butt"/>
<g fill="#0a0a0a">
<circle cx="411.29" cy="443.22" r="1.45"/>
<circle cx="415.09" cy="443.98" r="1.45"/>
<circle cx="418.89" cy="444.74" r="1.45"/>
<circle cx="422.69" cy="445.2" r="1.45"/>
<circle cx="426.79" cy="445.65" r="1.45"/>
<circle cx="430.59" cy="446.26" r="1.45"/>
<circle cx="434.39" cy="445.96" r="1.45"/>
<circle cx="438.19" cy="445.5" r="1.45"/>
<circle cx="441.99" cy="444.89" r="1.45"/>
<circle cx="446.09" cy="443.98" r="1.45"/>
<circle cx="449.89" cy="443.37" r="1.45"/>
<circle cx="453.69" cy="442.46" r="1.45"/>
<circle cx="430.59" cy="457.36" r="1.45"/>
<circle cx="434.39" cy="461.16" r="1.45"/>
<circle cx="432.57" cy="464.95" r="1.45"/>
<circle cx="428.77" cy="469.21" r="1.45"/>
<circle cx="432.57" cy="469.21" r="1.45"/>
<circle cx="436.37" cy="467.99" r="1.45"/>
<circle cx="424.82" cy="472.86" r="1.45"/>
<circle cx="428.77" cy="475.14" r="1.45"/>
<circle cx="430.59" cy="476.81" r="1.45"/>
<circle cx="432.57" cy="475.59" r="1.45"/>
<circle cx="436.37" cy="475.14" r="1.45"/>
<circle cx="440.17" cy="474.07" r="1.45"/>
<circle cx="434.39" cy="480.15" r="1.45"/>
<circle cx="428.77" cy="482.43" r="1.45"/>
<circle cx="436.37" cy="483.19" r="1.45"/>
<circle cx="430.59" cy="486.99" r="1.45"/>
<circle cx="432.57" cy="485.93" r="1.45"/>
<circle cx="434.39" cy="490.03" r="1.45"/>
<circle cx="432.57" cy="495.65" r="1.45"/>
<circle cx="424.82" cy="498.39" r="1.45"/>
<circle cx="428.77" cy="499.91" r="1.45"/>
<circle cx="432.57" cy="500.97" r="1.45"/>
<circle cx="436.37" cy="499.6" r="1.45"/>
<circle cx="440.17" cy="498.39" r="1.45"/>
<circle cx="434.31" cy="505.71" r="1.45"/>
<circle cx="428.23" cy="507.05" r="1.45"/>
<circle cx="427.02" cy="508.27" r="1.45"/>
<circle cx="430.66" cy="508.88" r="1.45"/>
<circle cx="440.39" cy="508.75" r="1.45"/>
<circle cx="436.38" cy="511.55" r="1.45"/>
<circle cx="434.55" cy="513.62" r="1.45"/>
<circle cx="415.1" cy="516.17" r="1.45"/>
<circle cx="428.47" cy="515.81" r="1.45"/>
<circle cx="418.75" cy="518.48" r="1.45"/>
<circle cx="422.4" cy="518.84" r="1.45"/>
<circle cx="426.65" cy="518.84" r="1.45"/>
<circle cx="430.66" cy="519.09" r="1.45"/>
<circle cx="436.38" cy="520.06" r="1.45"/>
<circle cx="440.02" cy="518.84" r="1.45"/>
<circle cx="443.67" cy="518.84" r="1.45"/>
<circle cx="447.68" cy="518.84" r="1.45"/>
<circle cx="451.57" cy="517.87" r="1.45"/>
<circle cx="430.66" cy="522.74" r="1.45"/>
<circle cx="434.31" cy="522.49" r="1.45"/>
<circle cx="461.9" cy="522.9" r="1.45"/>
<circle cx="460.2" cy="524.3" r="1.45"/>
<circle cx="402.9" cy="524.4" r="1.45"/>
</g>
<g fill="#0a0a0a">
<circle cx="404.6" cy="524.8" r="1.15"/>
<circle cx="406.46" cy="524.81" r="1.15"/>
<circle cx="408.32" cy="524.83" r="1.15"/>
<circle cx="410.19" cy="524.84" r="1.15"/>
<circle cx="412.05" cy="524.86" r="1.15"/>
<circle cx="413.91" cy="524.87" r="1.15"/>
<circle cx="415.77" cy="524.88" r="1.15"/>
<circle cx="417.63" cy="524.9" r="1.15"/>
<circle cx="419.5" cy="524.91" r="1.15"/>
<circle cx="421.36" cy="524.92" r="1.15"/>
<circle cx="423.22" cy="524.94" r="1.15"/>
<circle cx="425.08" cy="524.95" r="1.15"/>
<circle cx="426.94" cy="524.97" r="1.15"/>
<circle cx="428.81" cy="524.98" r="1.15"/>
<circle cx="430.67" cy="524.99" r="1.15"/>
<circle cx="432.53" cy="524.99" r="1.15"/>
<circle cx="434.39" cy="524.98" r="1.15"/>
<circle cx="436.26" cy="524.97" r="1.15"/>
<circle cx="438.12" cy="524.95" r="1.15"/>
<circle cx="439.98" cy="524.94" r="1.15"/>
<circle cx="441.84" cy="524.92" r="1.15"/>
<circle cx="443.7" cy="524.91" r="1.15"/>
<circle cx="445.57" cy="524.9" r="1.15"/>
<circle cx="447.43" cy="524.88" r="1.15"/>
<circle cx="449.29" cy="524.87" r="1.15"/>
<circle cx="451.15" cy="524.86" r="1.15"/>
<circle cx="453.01" cy="524.84" r="1.15"/>
<circle cx="454.88" cy="524.83" r="1.15"/>
<circle cx="456.74" cy="524.81" r="1.15"/>
<circle cx="458.6" cy="524.8" r="1.15"/>
</g>
</svg>
</body></html>
